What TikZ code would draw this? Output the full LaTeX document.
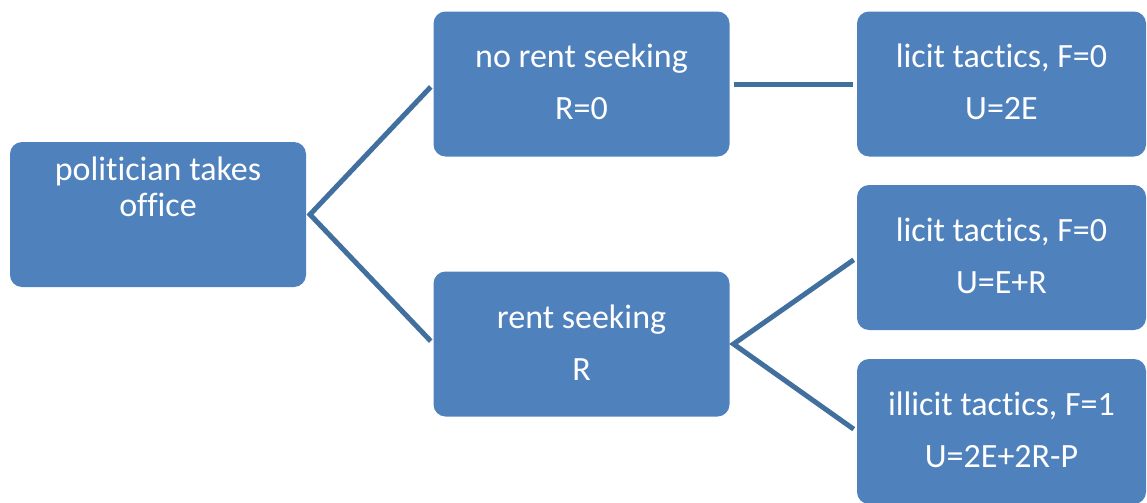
\documentclass[tikz,border=0pt]{standalone}
\usepackage{fontspec}
\setmainfont{Carlito}[Ligatures=NoCommon]
\definecolor{boxblue}{HTML}{4F81BD}
\definecolor{linkblue}{HTML}{41709F}
% text of a box: strut height, line skip, lines
\newcommand{\boxtxt}[3]{\parbox[c][72pt][t]{140pt}{\centering\fontsize{17}{#2}\selectfont\rule{0pt}{#1}#3\par}}

\begin{document}
\begin{tikzpicture}[x=0.5pt,y=-0.5pt]
  \tikzset{Box/.style = {
  shape = rectangle,
  fill = boxblue,
  text = white,
  rounded corners = 6pt,
  inner sep = 0pt,
  outer sep = 0pt,
  minimum width = 148pt,
  minimum height = 72.5pt},
  Leaf/.style = {Box, minimum width = 144.5pt},
  Link/.style = {draw = linkblue, line width = 2.5pt,
  shorten <= 2pt, shorten >= 2pt}}
  \useasboundingbox (0,0) rectangle (1147,503);
  \node[Box] (office) at (158,214.5) {\boxtxt{19pt}{18pt}{politician takes\\office}};
  \node[Box] (norent) at (581.5,84) {\boxtxt{28pt}{26pt}{no rent seeking\\R=0}};
  \node[Box] (rent) at (581.5,344) {\boxtxt{28pt}{26pt}{rent seeking\\R}};
  \node[Leaf] (licitA) at (1001.5,84) {\boxtxt{28pt}{26pt}{licit tactics, F=0\\U=2E}};
  \node[Leaf] (licitB) at (1001.5,257.5) {\boxtxt{28pt}{26pt}{licit tactics, F=0\\U=E+R}};
  \node[Leaf] (illicit) at (1001.5,431.5) {\boxtxt{28pt}{26pt}{illicit tactics, F=1\\U=2E+2R-P}};
  \coordinate (officeTip) at ([xshift=2pt]office.east);
  \coordinate (rentTip) at ([xshift=2pt]rent.east);
  \draw[Link] (norent.west) -- (officeTip) -- (rent.west);
  \draw[Link] (norent.east) -- (licitA.west);
  \draw[Link] (licitB.west) -- (rentTip) -- (illicit.west);
\end{tikzpicture}
\end{document}
